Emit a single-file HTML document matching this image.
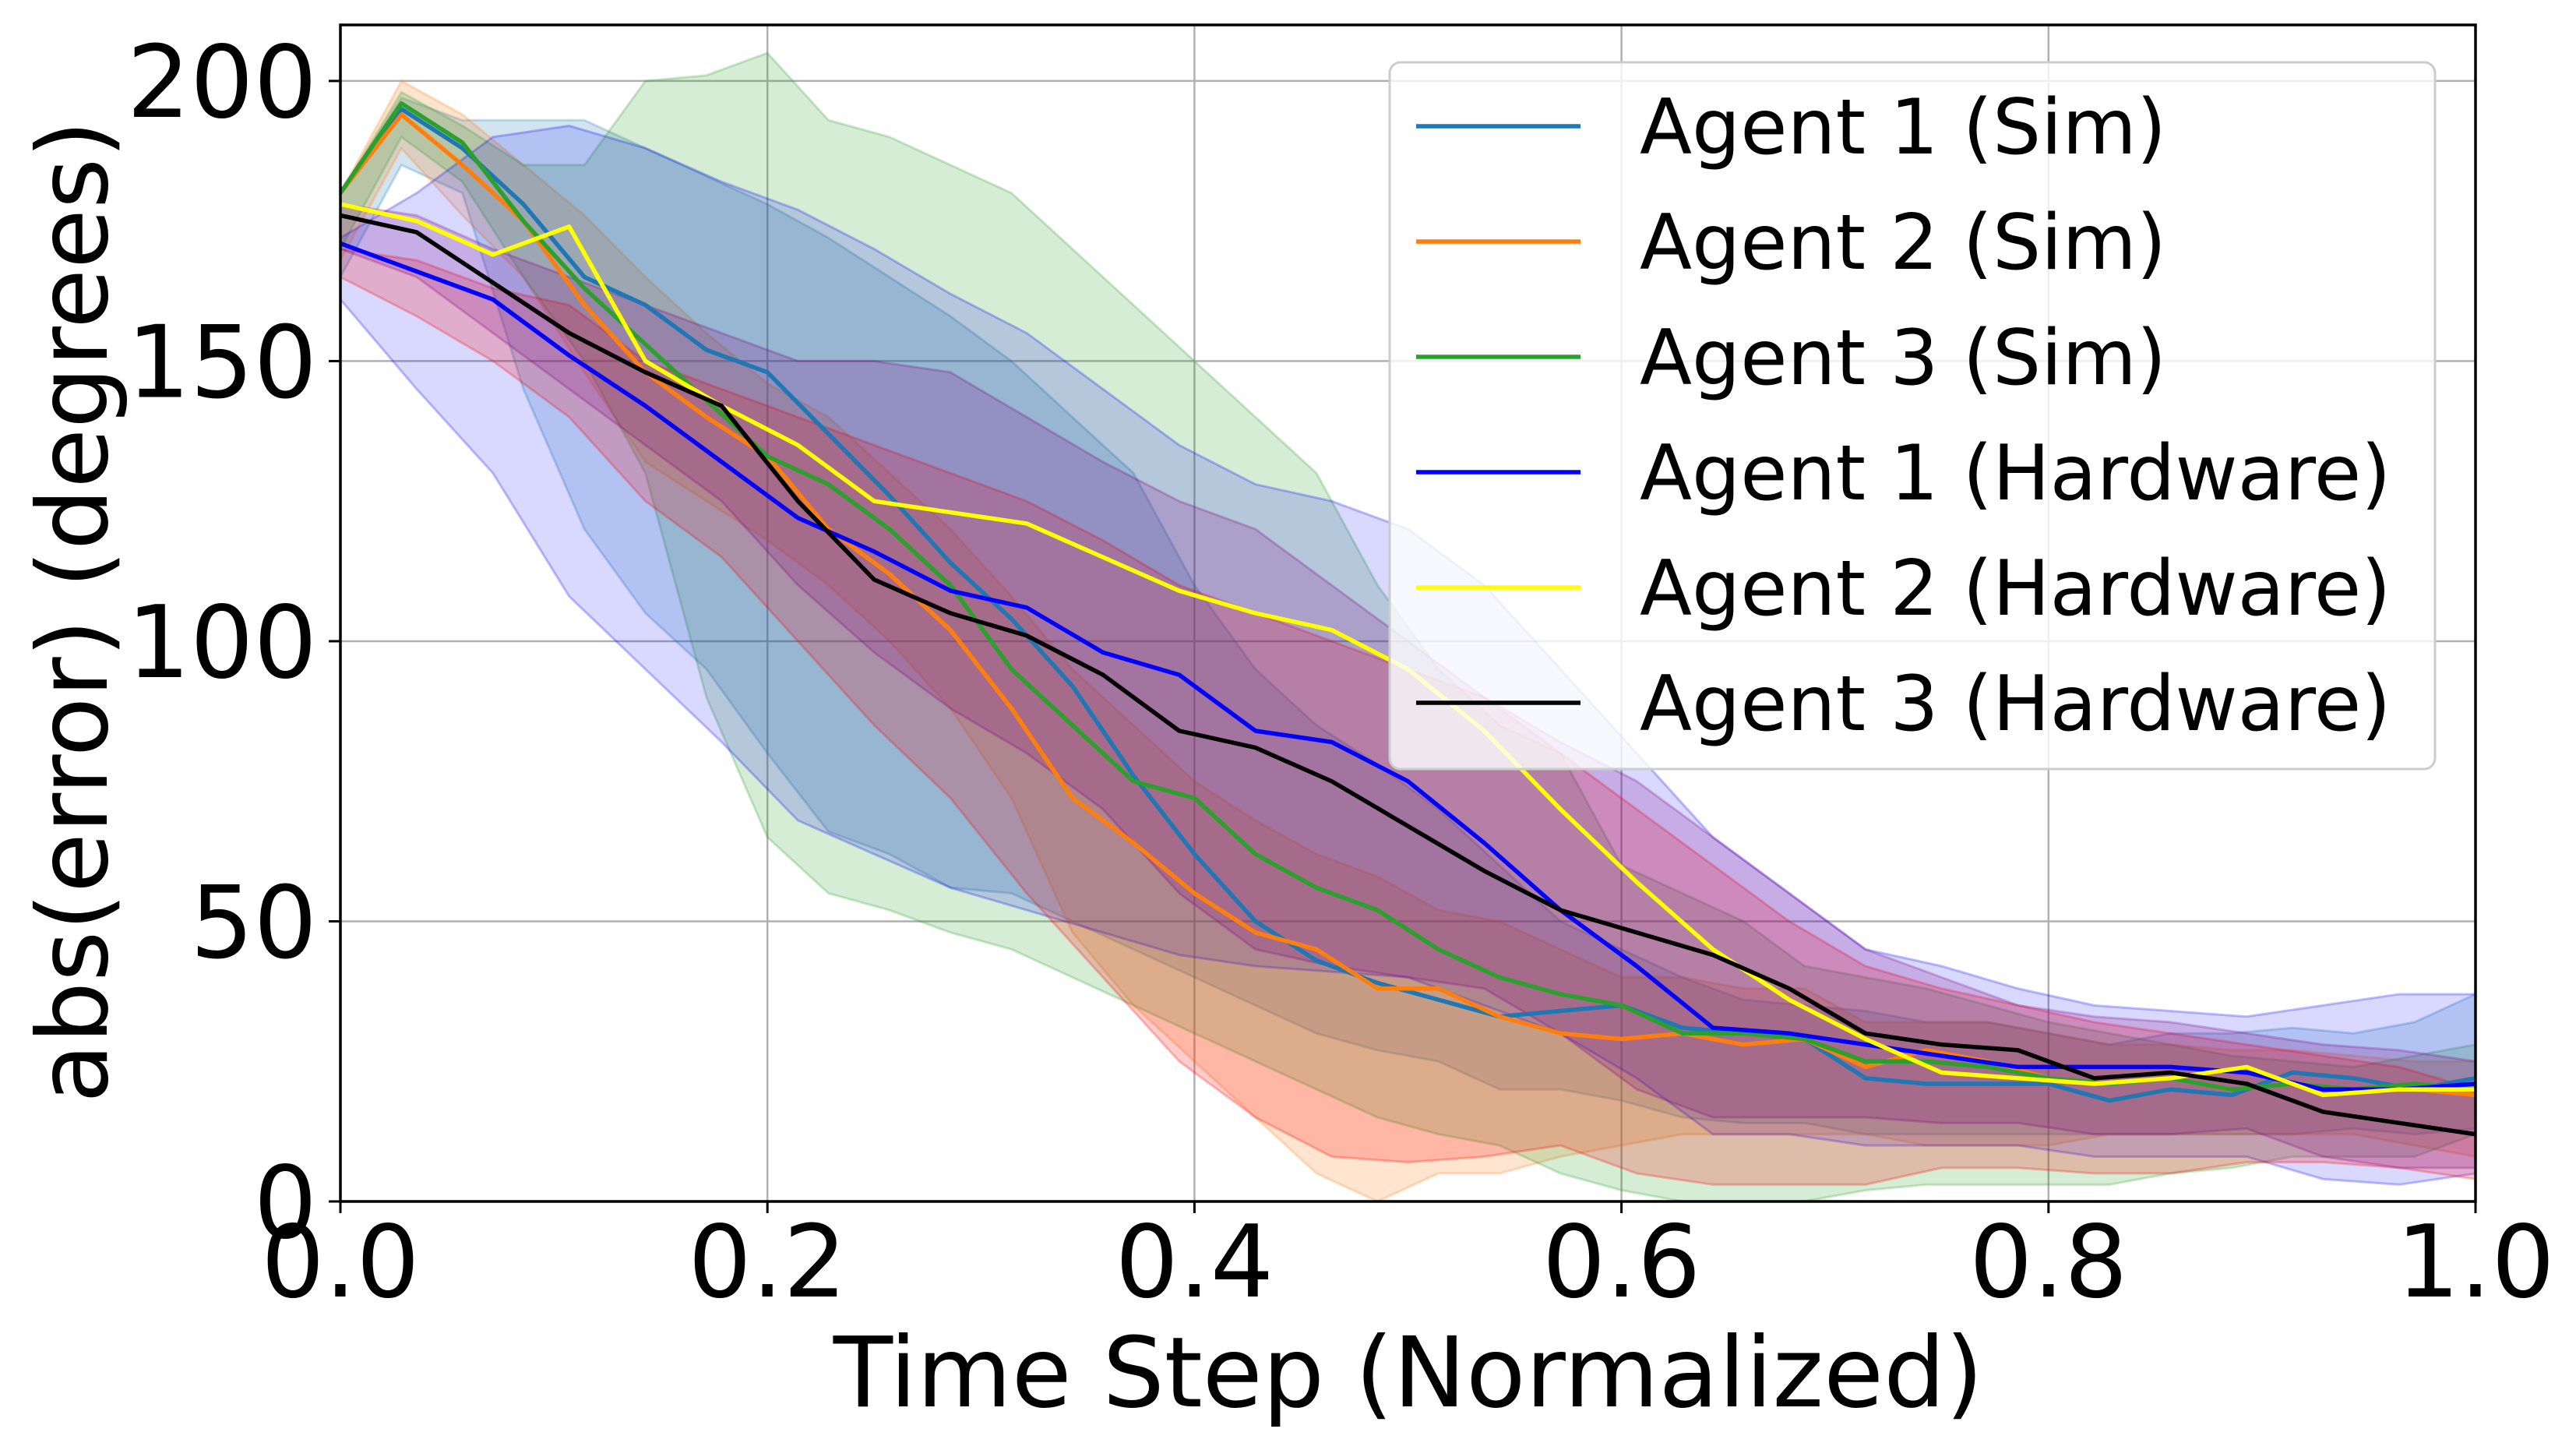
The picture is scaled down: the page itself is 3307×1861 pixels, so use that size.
<!DOCTYPE html>
<html><head><meta charset="utf-8">
<style>
html,body{margin:0;padding:0;background:#fff;}
svg{display:block;font-family:"DejaVu Sans","Liberation Sans",sans-serif;}
</style></head>
<body>
<svg id="chart" width="3307" height="1861" viewBox="0 0 3307 1861" xmlns="http://www.w3.org/2000/svg">
<rect width="3307" height="1861" fill="#fff"/>
<g id="grid"></g>
<g id="bands"></g>
<g id="lines"></g>
<g id="axes"></g>
<g id="legend"></g>
<text x="1808" y="1805" font-size="125" text-anchor="middle">Time Step (Normalized)</text>
<text transform="translate(137,785) rotate(-90)" font-size="125" text-anchor="middle">abs(error) (degrees)</text>
</svg>
<script>
const xTicks=[0,0.2,0.4,0.6,0.8,1.0];
const xTickLabels=["0.0","0.2","0.4","0.6","0.8","1.0"];
const yTicks=[0,50,100,150,200];
const yTickLabels=["0","50","100","150","200"];
const seriesNames=["Agent 1 (Sim)","Agent 2 (Sim)","Agent 3 (Sim)","Agent 1 (Hardware)","Agent 2 (Hardware)","Agent 3 (Hardware)"];
const simSteps=35;
const hwSteps=28;
const sim1=[180,195,188,178,165,160,152,148,137,126,114,104,92,76,62,50,43,39,36,33,34,35,31,30,29,22,21,21,21,18,20,19,23,22,20,22];
const sim1Up=[180,197,193,193,193,188,183,178,172,165,158,150,140,130,110,95,85,78,70,60,50,45,40,36,35,34,32,32,30,28,30,30,31,30,32,37];
const sim1Lo=[165,185,180,145,120,105,95,80,66,62,56,55,50,45,40,35,30,27,25,20,20,18,15,14,14,12,12,12,12,12,12,12,12,13,12,13];
const sim2=[180,194,185,175,160,148,140,133,120,112,102,88,72,64,55,48,45,38,38,33,30,29,30,28,29,24,27,25,22,21,22,20,21,20,20,19];
const sim2Up=[180,200,194,185,176,165,155,146,140,130,120,108,95,85,75,68,62,58,52,50,45,40,40,38,38,32,32,32,30,28,28,27,27,26,25,25];
const sim2Lo=[168,188,176,165,148,132,125,118,110,100,88,72,48,35,25,15,5,0,5,5,8,10,12,12,12,12,10,10,10,12,12,12,12,12,10,8];
const sim3=[180,196,189,175,163,153,143,133,128,120,110,95,85,75,72,62,56,52,45,40,37,35,30,30,29,25,25,24,22,21,22,20,21,20,21,20];
const sim3Up=[180,198,192,185,185,200,201,205,193,190,185,180,170,160,150,140,130,110,95,85,80,60,55,50,42,40,38,35,32,30,28,26,25,24,26,28];
const sim3Lo=[170,190,182,165,150,130,90,65,55,52,48,45,40,35,30,25,20,15,12,10,5,2,0,0,0,2,3,3,3,3,5,6,8,8,8,12];
const hw1=[171,166,161,151,142,132,122,116,109,106,98,94,84,82,75,64,52,42,31,30,28,26,24,24,24,23,20,20,21];
const hw1Up=[172,180,190,192,188,182,177,170,162,155,145,135,128,125,120,110,95,80,65,55,45,42,38,35,34,33,35,37,37];
const hw1Lo=[161,145,130,108,95,82,68,62,56,52,48,44,42,41,40,35,30,22,12,12,10,10,10,8,8,8,4,3,5];
const hw2=[178,175,169,174,150,142,135,125,123,121,115,109,105,102,95,84,70,57,45,36,29,23,22,21,22,24,19,20,20];
const hw2Up=[170,168,163,160,150,145,140,135,130,125,118,110,105,100,95,90,80,70,60,50,42,38,35,32,30,28,26,24,20];
const hw2Lo=[165,158,150,140,125,115,100,85,72,55,40,25,15,8,7,8,10,5,3,3,3,6,6,5,5,7,7,6,4];
const hw3=[176,173,164,155,148,142,125,111,105,101,94,84,81,75,67,59,52,48,44,38,30,28,27,22,23,21,16,14,12];
const hw3Up=[178,176,170,165,160,155,150,150,148,140,132,125,120,110,100,90,82,75,65,55,45,40,35,33,32,30,28,27,25];
const hw3Lo=[170,165,155,145,135,125,110,98,88,80,70,55,45,42,40,38,30,20,15,15,15,14,14,12,12,13,8,6,6];

const L=437,R=3178,T=32,B=1542,YMAX=210;
const NS="http://www.w3.org/2000/svg";
function sx(v){return L+(R-L)*v;}
function sy(v){return B-(B-T)*v/YMAX;}
function mk(tag,attrs,parent){const e=document.createElementNS(NS,tag);for(const k in attrs)e.setAttribute(k,attrs[k]);parent.appendChild(e);return e;}
const grid=document.getElementById('grid'),bands=document.getElementById('bands'),lines=document.getElementById('lines'),axes=document.getElementById('axes'),legend=document.getElementById('legend');

xTicks.forEach((t,i)=>{
  const g=mk('line',{x1:sx(t),x2:sx(t),y1:T,y2:B,stroke:'#b0b0b0','stroke-width':2.5},grid);
  
  
  const tk=mk('line',{x1:sx(t),x2:sx(t),y1:B,y2:B+15,stroke:'#000','stroke-width':3},axes);
  
  
  const tx=mk('text',{x:sx(t),y:B+122,'font-size':128,'text-anchor':'middle'},axes);
  tx.textContent=xTickLabels[i];
  
  
});
yTicks.forEach((t,i)=>{
  const g=mk('line',{x1:L,x2:R,y1:sy(t),y2:sy(t),stroke:'#b0b0b0','stroke-width':2.5},grid);
  
  
  const tk=mk('line',{x1:L-15,x2:L,y1:sy(t),y2:sy(t),stroke:'#000','stroke-width':3},axes);
  
  
  const tx=mk('text',{x:L-30,y:sy(t)+46,'font-size':128,'text-anchor':'end'},axes);
  tx.textContent=yTickLabels[i];
  
  
});
const frame=mk('rect',{x:L,y:T,width:R-L,height:B-T,fill:'none',stroke:'#000','stroke-width':3.5},axes);



function xs(n,steps){return Array.from({length:n},(_,i)=>i/steps);}
function band(up,lo,steps,color,op,name){
  const x=xs(up.length,steps);
  let d='M'+x.map((v,i)=>sx(v)+','+sy(up[i])).join('L');
  d+='L'+x.slice().reverse().map((v,j)=>{const i=x.length-1-j;return sx(v)+','+sy(lo[i]);}).join('L')+'Z';
  const p=mk('path',{d:d,fill:color,'fill-opacity':op,stroke:color,'stroke-opacity':0.25,'stroke-width':3},bands);
  
  
}
function line(vals,steps,color,name){
  const x=xs(vals.length,steps);
  const p=mk('polyline',{points:x.map((v,i)=>sx(v)+','+sy(vals[i])).join(' '),fill:'none',stroke:color,'stroke-width':5.5,'stroke-linejoin':'round'},lines);
  
  
}
const cS1='#1f77b4',cS2='#ff7f0e',cS3='#2ca02c',cH1='#0000ff',cH2='#ffff00',cH3='#000000';
band(sim1Up,sim1Lo,simSteps,cS1,0.2,'band-agent1-sim');
band(sim2Up,sim2Lo,simSteps,cS2,0.2,'band-agent2-sim');
band(sim3Up,sim3Lo,simSteps,cS3,0.2,'band-agent3-sim');
band(hw1Up,hw1Lo,hwSteps,'#0000ff',0.15,'band-agent1-hardware');
band(hw2Up,hw2Lo,hwSteps,'#ff0000',0.2,'band-agent2-hardware');
band(hw3Up,hw3Lo,hwSteps,'#800080',0.2,'band-agent3-hardware');
line(sim1,simSteps,cS1,'line-agent1-sim');
line(sim2,simSteps,cS2,'line-agent2-sim');
line(sim3,simSteps,cS3,'line-agent3-sim');
line(hw1,hwSteps,cH1,'line-agent1-hardware');
line(hw2,hwSteps,cH2,'line-agent2-hardware');
line(hw3,hwSteps,cH3,'line-agent3-hardware');

const lb=mk('rect',{x:1784,y:80,width:1342,height:907,rx:14,fill:'#fff','fill-opacity':0.8,stroke:'#cccccc','stroke-width':3},legend);


const colors=[cS1,cS2,cS3,cH1,cH2,cH3];
seriesNames.forEach((n,i)=>{
  const y=162+i*148;
  const ln=mk('line',{x1:1818,x2:2029,y1:y,y2:y,stroke:colors[i],'stroke-width':5.5},legend);
  
  
  const t=mk('text',{x:2105,y:y+35,'font-size':98},legend);
  t.textContent=n;
  
  
});
</script>
</body></html>
